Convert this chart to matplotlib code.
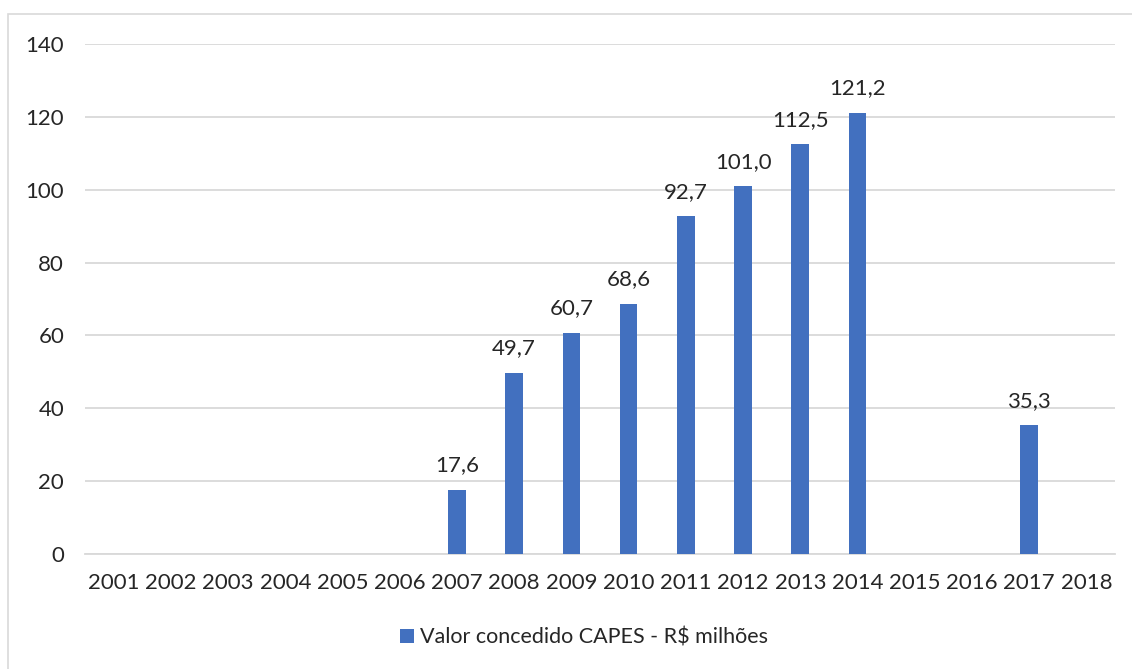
import numpy as np
import matplotlib.pyplot as plt
from matplotlib.patches import Rectangle

# dados
anos = ['2001', '2002', '2003', '2004', '2005', '2006', '2007', '2008', '2009',
        '2010', '2011', '2012', '2013', '2014', '2015', '2016', '2017', '2018']
valores = [0, 0, 0, 0, 0, 0, 17.6, 49.7, 60.7, 68.6, 92.7, 101.0, 112.5, 121.2, 0, 0, 35.3, 0]
rotulo_serie = 'Valor concedido CAPES - R$ milhões'

cor_barra = '#4270BF'
cor_texto = '#262626'
plt.rcParams['font.family'] = ['Lato', 'DejaVu Sans']

fig = plt.figure(figsize=(11.32, 6.69), dpi=100)
ax = fig.add_axes([0.0751, 0.172, 0.9099, 0.762])

x = np.arange(len(anos))
barras = ax.bar(x, valores, width=0.31, color=cor_barra, label=rotulo_serie, zorder=3)

# rótulos só nas barras com valor
for xi, v in zip(x, valores):
    if v > 0:
        ax.text(xi, v + 4, f'{v:.1f}'.replace('.', ','), ha='center', va='bottom',
                fontsize=16, color=cor_texto)

ax.set_xlim(-0.5, len(anos) - 0.5)
ax.set_ylim(0, 140)
ax.set_yticks(np.arange(0, 141, 20))
ax.set_xticks(x)
ax.set_xticklabels(anos)
ax.tick_params(axis='both', length=0, labelsize=16, labelcolor=cor_texto)
ax.tick_params(axis='y', pad=15)
ax.tick_params(axis='x', pad=14)
ax.yaxis.grid(True, color='#D9D9D9', linewidth=1.3, zorder=0)
for s in ['top', 'right', 'left']:
    ax.spines[s].set_visible(False)
ax.spines['bottom'].set_color('#D9D9D9')
ax.spines['bottom'].set_linewidth(1.3)

leg = fig.legend(handles=[barras], labels=[rotulo_serie], loc='center',
                 bbox_to_anchor=(0.516, 0.047), frameon=False, fontsize=15.5,
                 handlelength=0.65, handleheight=0.65, handletextpad=0.25)
for t in leg.get_texts():
    t.set_color(cor_texto)

# moldura do gráfico
fig.patches.append(Rectangle((8 / 1132, -0.01), 1.1, 1 - 14 / 669 + 0.01,
                             transform=fig.transFigure, fill=False,
                             edgecolor='#D9D9D9', linewidth=1.2))

fig.savefig('out.png', dpi=100)
